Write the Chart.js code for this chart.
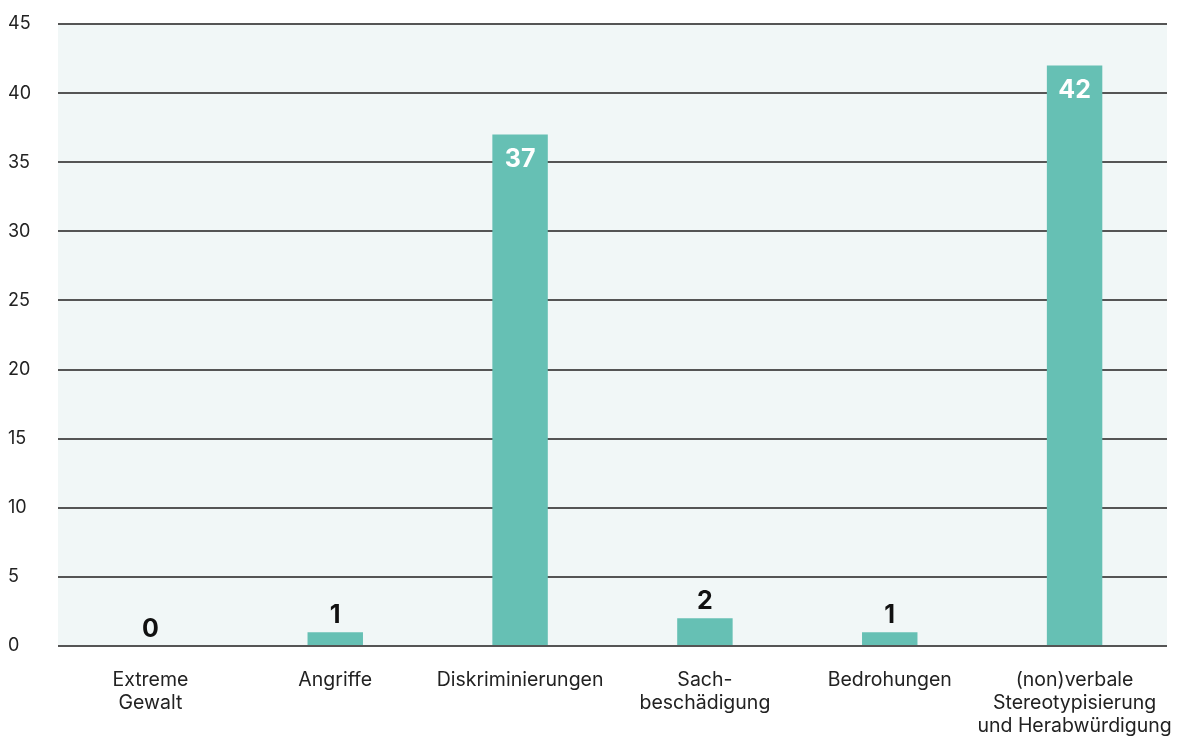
<!DOCTYPE html>
<html><head><meta charset="utf-8">
<script src="https://cdn.jsdelivr.net/npm/chart.js@4/dist/chart.umd.min.js"></script>
<style>html,body{margin:0;padding:0;background:#fff}#wrap{width:1186px;height:740px}</style>
</head><body>
<div id="wrap"><canvas id="c" width="1186" height="740"></canvas></div>
<script>
const categories=[['Extreme','Gewalt'],'Angriffe','Diskriminierungen',['Sach-','beschädigung'],'Bedrohungen',['(non)verbale','Stereotypisierung','und Herabwürdigung']];
const values=[0,1,37,2,1,42];
const yTicks=[0,5,10,15,20,25,30,35,40,45];

const FONT="Inter, 'Noto Sans', sans-serif";

// light plot background
const plotBg={id:'plotBg',beforeDraw(ch){const a=ch.chartArea,c=ch.ctx;c.save();c.fillStyle='#f1f7f7';c.fillRect(a.left,a.top,a.right-a.left,a.bottom-a.top);c.restore();}};
// value labels: inside white for tall bars, above black for small ones
const valLabels={id:'valLabels',afterDatasetsDraw(ch){
  const c=ch.ctx,meta=ch.getDatasetMeta(0);c.save();
  c.font='bold 25px '+FONT;c.textAlign='center';c.textBaseline='middle';
  meta.data.forEach((b,i)=>{const v=values[i];
    if(v>=10){c.fillStyle='#fff';c.fillText(String(v),b.x,b.y+25);}
    else{c.fillStyle='#111';c.fillText(String(v),b.x,b.y-17);}
  });c.restore();}};

new Chart(document.getElementById('c'),{
  type:'bar',
  data:{labels:categories,datasets:[{data:values,backgroundColor:'#66c0b4',barPercentage:0.6,categoryPercentage:0.5}]},
  options:{responsive:false,animation:false,
    layout:{padding:{top:24,right:19,left:8,bottom:0}},
    plugins:{legend:{display:false},tooltip:{enabled:false}},
    scales:{
      x:{grid:{display:false},border:{display:false},
        ticks:{color:'#222',font:{family:FONT,size:19.5,lineHeight:1.18},padding:15,maxRotation:0,autoSkip:false},
        afterFit(s){s.height=94;s.paddingLeft=0;s.paddingRight=0;}},
      y:{min:0,max:45,afterBuildTicks(s){s.ticks=yTicks.map(v=>({value:v}));},
        grid:{color:'#555',lineWidth:2,drawTicks:false},border:{display:false},
        ticks:{color:'#222',font:{family:FONT,size:18},crossAlign:'far',padding:8},
        afterFit(s){s.width=50;}}
    }},
  plugins:[plotBg,valLabels]
});
</script>
</body></html>
